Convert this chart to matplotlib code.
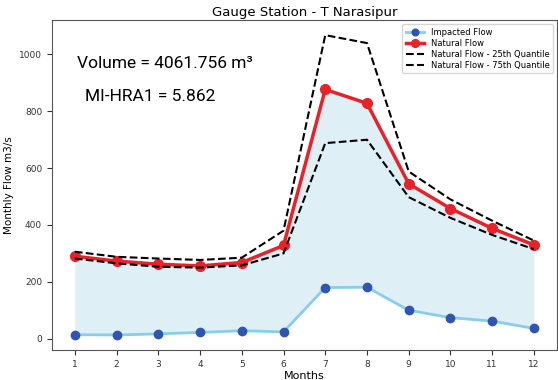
import numpy as np
import matplotlib.pyplot as plt

# monthly flows (m3/s)
months = np.arange(1, 13)
impacted = [14, 13, 17, 22, 28, 24, 180, 181, 100, 74, 62, 36]
natural = [290, 273, 262, 256, 268, 328, 877, 828, 545, 458, 388, 330]
q25 = [282, 265, 253, 250, 258, 300, 688, 700, 498, 425, 365, 315]
q75 = [306, 288, 282, 277, 285, 380, 1068, 1040, 588, 490, 415, 345]
volume = 4061.756
mi_hra1 = 5.862

fig = plt.figure(figsize=(5.58, 3.8), dpi=100)
ax = fig.add_axes([0.093, 0.079, 0.905, 0.868])

ax.fill_between(months, impacted, natural, color='lightblue', alpha=0.4, linewidth=0)
ax.plot(months, impacted, color='skyblue', linewidth=2, marker='o', markersize=6,
        markerfacecolor='#2f55b0', markeredgecolor='#2f55b0', label='Impacted Flow')
ax.plot(months, natural, color='#e8222a', linewidth=2.5, marker='o', markersize=7,
        markerfacecolor='#e8222a', markeredgecolor='#e8222a', label='Natural Flow')
ax.plot(months, q25, 'k--', linewidth=1.5, label='Natural Flow - 25th Quantile')
ax.plot(months, q75, 'k--', linewidth=1.5, label='Natural Flow - 75th Quantile')

ax.set_xticks(months)
ax.tick_params(axis='both', labelsize=6.5, colors='#333333')
ax.set_xlabel('Months', fontsize=8, labelpad=2)
ax.set_ylabel('Monthly Flow m3/s', fontsize=7.5)
ax.set_title('Gauge Station - T Narasipur', fontsize=9.5, pad=3)
ax.legend(loc='upper right', fontsize=6, handlelength=2.2, borderpad=0.4,
          labelspacing=0.25, markerscale=0.8)

ax.text(0.05, 0.87, 'Volume = %.3f m\u00b3' % volume, transform=ax.transAxes,
        fontsize=12.5, family='Roboto', va='center')
ax.text(0.065, 0.77, 'MI-HRA1 = %.3f' % mi_hra1, transform=ax.transAxes,
        fontsize=12.5, family='Roboto', va='center')

for s in ['top', 'right', 'left', 'bottom']:
    ax.spines[s].set_color('#555555')

fig.savefig('out.png')
